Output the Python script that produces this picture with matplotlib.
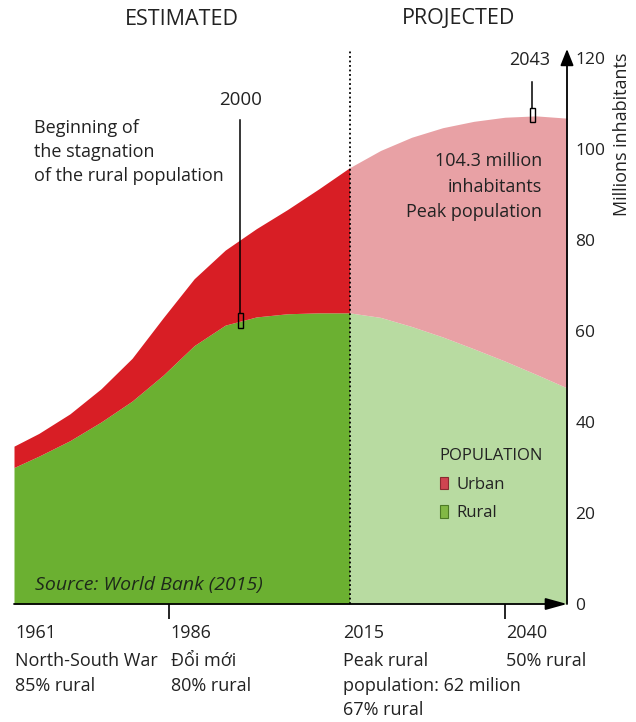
import numpy as np
import matplotlib.pyplot as plt
from matplotlib.patches import Rectangle, Patch

plt.rcParams['font.family'] = ['Open Sans', 'DejaVu Sans']

years = np.array([1961, 1965, 1970, 1975, 1980, 1985, 1990, 1995, 2000, 2005,
                  2010, 2015, 2020, 2025, 2030, 2035, 2040, 2045, 2050])
total = np.array([34.7, 37.5, 41.8, 47.3, 54.0, 62.9, 71.5, 77.8, 82.5, 86.7,
                  91.2, 95.9, 99.7, 102.6, 104.7, 106.1, 107.0, 107.3, 106.8])
rural = np.array([30.0, 32.5, 35.9, 40.0, 44.6, 50.3, 56.8, 61.3, 63.1, 63.8,
                  64.0, 64.0, 63.0, 61.0, 58.7, 56.1, 53.4, 50.5, 47.5])

yticks = [0, 20, 40, 60, 80, 100, 120]
milestones = [1961, 1986, 2015, 2040]
milestone_text = [['1961', 'North-South War', '85% rural'],
                  ['1986', 'Đổi mới', '80% rural'],
                  ['2015', 'Peak rural', 'population: 62 milion', '67% rural'],
                  ['2040', '50% rural']]

c_urban, c_rural = '#d81e25', '#6bb031'
c_urban_p, c_rural_p = '#e8a1a5', '#b8dba1'
txt = '#222222'

fig = plt.figure(figsize=(6.36, 7.22), dpi=100)
ax = fig.add_axes([14/636, 118/722, 553/636, 555/722])
ax.set_xlim(1961, 2050)
ax.set_ylim(0, 122)

est = years <= 2015
proj = years >= 2015
ax.fill_between(years, 0, rural, where=est, color=c_rural, lw=0)
ax.fill_between(years, rural, total, where=est, color=c_urban, lw=0)
ax.fill_between(years, 0, rural, where=proj, color=c_rural_p, lw=0)
ax.fill_between(years, rural, total, where=proj, color=c_urban_p, lw=0)

ax.axvline(2015, color='k', ls=(0, (1, 1.5)), lw=1.3)

for s in ax.spines.values():
    s.set_visible(False)
ax.annotate('', xy=(1, 0), xytext=(0, 0), xycoords='axes fraction',
            arrowprops=dict(arrowstyle='-|>,head_length=0.65,head_width=0.18',
                            mutation_scale=20, color='k', lw=1.3,
                            shrinkA=0, shrinkB=0))
ax.annotate('', xy=(1, 1), xytext=(1, 0), xycoords='axes fraction',
            arrowprops=dict(arrowstyle='-|>,head_length=0.5,head_width=0.2',
                            mutation_scale=20, color='k', lw=1.3,
                            shrinkA=0, shrinkB=0))

ax.yaxis.tick_right()
ax.set_yticks(yticks)
ax.tick_params(axis='y', length=0, pad=6, labelsize=12.5, labelcolor=txt)
ax.set_xticks([1986, 2040])
ax.set_xticklabels([])
ax.tick_params(axis='x', length=11, width=1.2, direction='out')

# milestone captions under the axis, one text per line
line_y = [-6.3, -12.5, -18.1, -23.3]
for x, lines in zip(milestones, milestone_text):
    x0 = x + 0.2 if x != 2015 else x - 1
    for ln, y in zip(lines, line_y):
        ax.text(x0, y, ln, ha='left', va='center', fontsize=13, color=txt,
                clip_on=False)

fig.text(622/636, 0.814, 'Millions inhabitants', rotation=90, ha='center',
         va='center', fontsize=13, color=txt)
ax.text((1961 + 2015) / 2, 128.4, 'ESTIMATED', ha='center', va='center',
        fontsize=15.5, color=txt, clip_on=False)
ax.text((2015 + 2050) / 2, 128.6, 'PROJECTED', ha='center', va='center',
        fontsize=15.5, color=txt, clip_on=False)

ax.text(1964.2, 106.6, 'Beginning of\nthe stagnation\nof the rural population',
        ha='left', va='top', fontsize=13, color=txt, linespacing=1.44)
ax.text(2046, 99.3, '104.3 million\ninhabitants\nPeak population',
        ha='right', va='top', fontsize=13, color=txt, linespacing=1.52)

# markers on the curves
ax.plot([1997.4, 1997.4], [106.4, 64], color='k', lw=1.1)
ax.add_patch(Rectangle((1997.0, 60.7), 0.8, 3.3, fill=False, ec='k', lw=1))
ax.text(1997.4, 110.8, '2000', ha='center', va='center', fontsize=13.5, color=txt)
ax.plot([2044.4, 2044.4], [114.7, 109], color='k', lw=1.1)
ax.add_patch(Rectangle((2044.0, 105.9), 0.8, 3.1, fill=False, ec='k', lw=1))
ax.text(2044.0, 119.6, '2043', ha='center', va='center', fontsize=13,
        color=txt, clip_on=False)

ax.text(1964.4, 4.2, 'Source: World Bank (2015)', ha='left', va='center',
        fontsize=14, style='italic', color='#1e2a1a')

handles = [Patch(fc='#cf4450', ec='#8a2a30', lw=0.8, label='Urban'),
           Patch(fc='#82b845', ec='#4d7a25', lw=0.8, label='Rural')]
leg = ax.legend(handles=handles, title='POPULATION', loc='upper left',
                bbox_to_anchor=(0.764, 0.287), frameon=False, fontsize=12,
                title_fontsize=12, handlelength=0.5, handleheight=0.8,
                handletextpad=0.5, labelspacing=0.75, alignment='left',
                borderaxespad=0, borderpad=0.2)
for t in leg.get_texts():
    t.set_color(txt)
leg.get_title().set_color(txt)

fig.savefig('out.png', dpi=100)
